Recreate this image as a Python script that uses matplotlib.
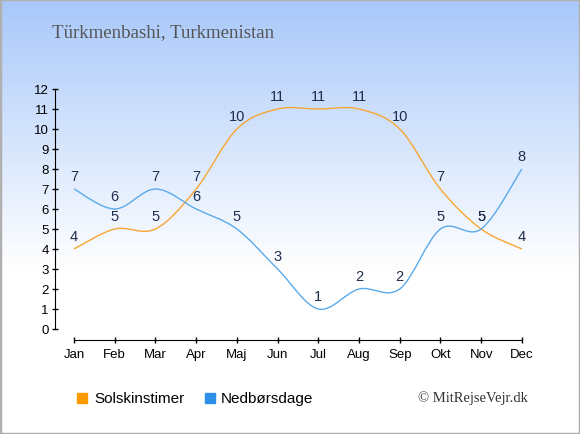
import numpy as np
import matplotlib
matplotlib.use("Agg")
import matplotlib.pyplot as plt
from matplotlib.path import Path
from matplotlib.patches import PathPatch, Rectangle

# Soltimer og nedboersdage pr. maaned
maaneder = ["Jan", "Feb", "Mar", "Apr", "Maj", "Jun", "Jul", "Aug", "Sep", "Okt", "Nov", "Dec"]
sol = [4, 5, 5, 7, 10, 11, 11, 11, 10, 7, 5, 4]
regn = [7, 6, 7, 6, 5, 3, 1, 2, 2, 5, 5, 8]

orange = "#f7a633"
blaa = "#5aaaea"

plt.rcParams["font.family"] = ["Liberation Sans", "DejaVu Sans"]

fig = plt.figure(figsize=(5.8, 4.35), dpi=100)

# baggrund med farveovergang
bg = fig.add_axes([0, 0, 1, 1], zorder=0)
h = 435
yy = np.arange(h) / 270.0
t = np.clip(yy, 0, 1)[:, None]
top = np.array([168, 200, 250]) / 255.0
grad = top * (1 - t) + np.ones(3) * t
bg.imshow(grad[:, None, :], aspect="auto", extent=[0, 1, 0, 1])
bg.set_xlim(0, 1)
bg.set_ylim(0, 1)
bg.axis("off")
bg.add_patch(Rectangle((0, 0), 1, 1, transform=bg.transAxes, fill=False,
                       edgecolor="#b0b0b0", linewidth=2.5))

ax = fig.add_axes([55 / 580, 94 / 435, 475 / 580, 257 / 435], zorder=1)
ax.patch.set_alpha(0)


def kurve(ys):
    xs = list(range(len(ys)))
    n = len(ys)
    verts = [(xs[0], ys[0])]
    codes = [Path.MOVETO]
    for i in range(n - 1):
        a = max(i - 1, 0)
        d = min(i + 2, n - 1)
        c1 = (xs[i] + (xs[i + 1] - xs[a]) / 6, ys[i] + (ys[i + 1] - ys[a]) / 6)
        c2 = (xs[i + 1] - (xs[d] - xs[i]) / 6, ys[i + 1] - (ys[d] - ys[i]) / 6)
        verts += [c1, c2, (xs[i + 1], ys[i + 1])]
        codes += [Path.CURVE4] * 3
    return Path(verts, codes)


for serie, farve in [(sol, orange), (regn, blaa)]:
    ax.add_patch(PathPatch(kurve(serie), facecolor="none", edgecolor=farve, linewidth=1.0))
    for i, v in enumerate(serie):
        ax.annotate(str(v), (i, v), xytext=(0, 9.5), textcoords="offset points",
                    ha="center", va="center", fontsize=10.5, color="#1f2d4d")

ax.set_xlim(-0.467, 11.2)
ax.set_ylim(-0.55, 12.3)
ax.set_yticks(range(13))
ax.set_xticks(range(12))
ax.set_xticklabels(maaneder)
for s in ["top", "right"]:
    ax.spines[s].set_visible(False)
ax.spines["left"].set_bounds(0, 12)
ax.spines["bottom"].set_bounds(0, 11)
ax.tick_params(direction="inout", length=5, width=1, labelsize=9.5, colors="black")
ax.tick_params(axis="y", pad=2)
ax.tick_params(axis="x", pad=3)

fig.text(52 / 580, 1 - 33 / 435, "Türkmenbashi, Turkmenistan", family="Liberation Serif",
         fontsize=13.6, color="#555555", ha="left", va="center")

# forklaring
fig.patches.append(Rectangle((77 / 580, 1 - 404 / 435), 10 / 580, 10 / 435,
                             transform=fig.transFigure, color="#ff9900"))
fig.text(94 / 580, 1 - 399 / 435, "Solskinstimer", fontsize=11, ha="left", va="center")
fig.patches.append(Rectangle((205 / 580, 1 - 404 / 435), 10 / 580, 10 / 435,
                             transform=fig.transFigure, color="#2e8fe8"))
fig.text(221 / 580, 1 - 399 / 435, "Nedbørsdage", fontsize=11, ha="left", va="center")

fig.text(418 / 580, 1 - 398 / 435, "© MitRejseVejr.dk", family="Liberation Serif",
         fontsize=10.5, color="#333333", ha="left", va="center")

fig.savefig("out.png", dpi=100)
